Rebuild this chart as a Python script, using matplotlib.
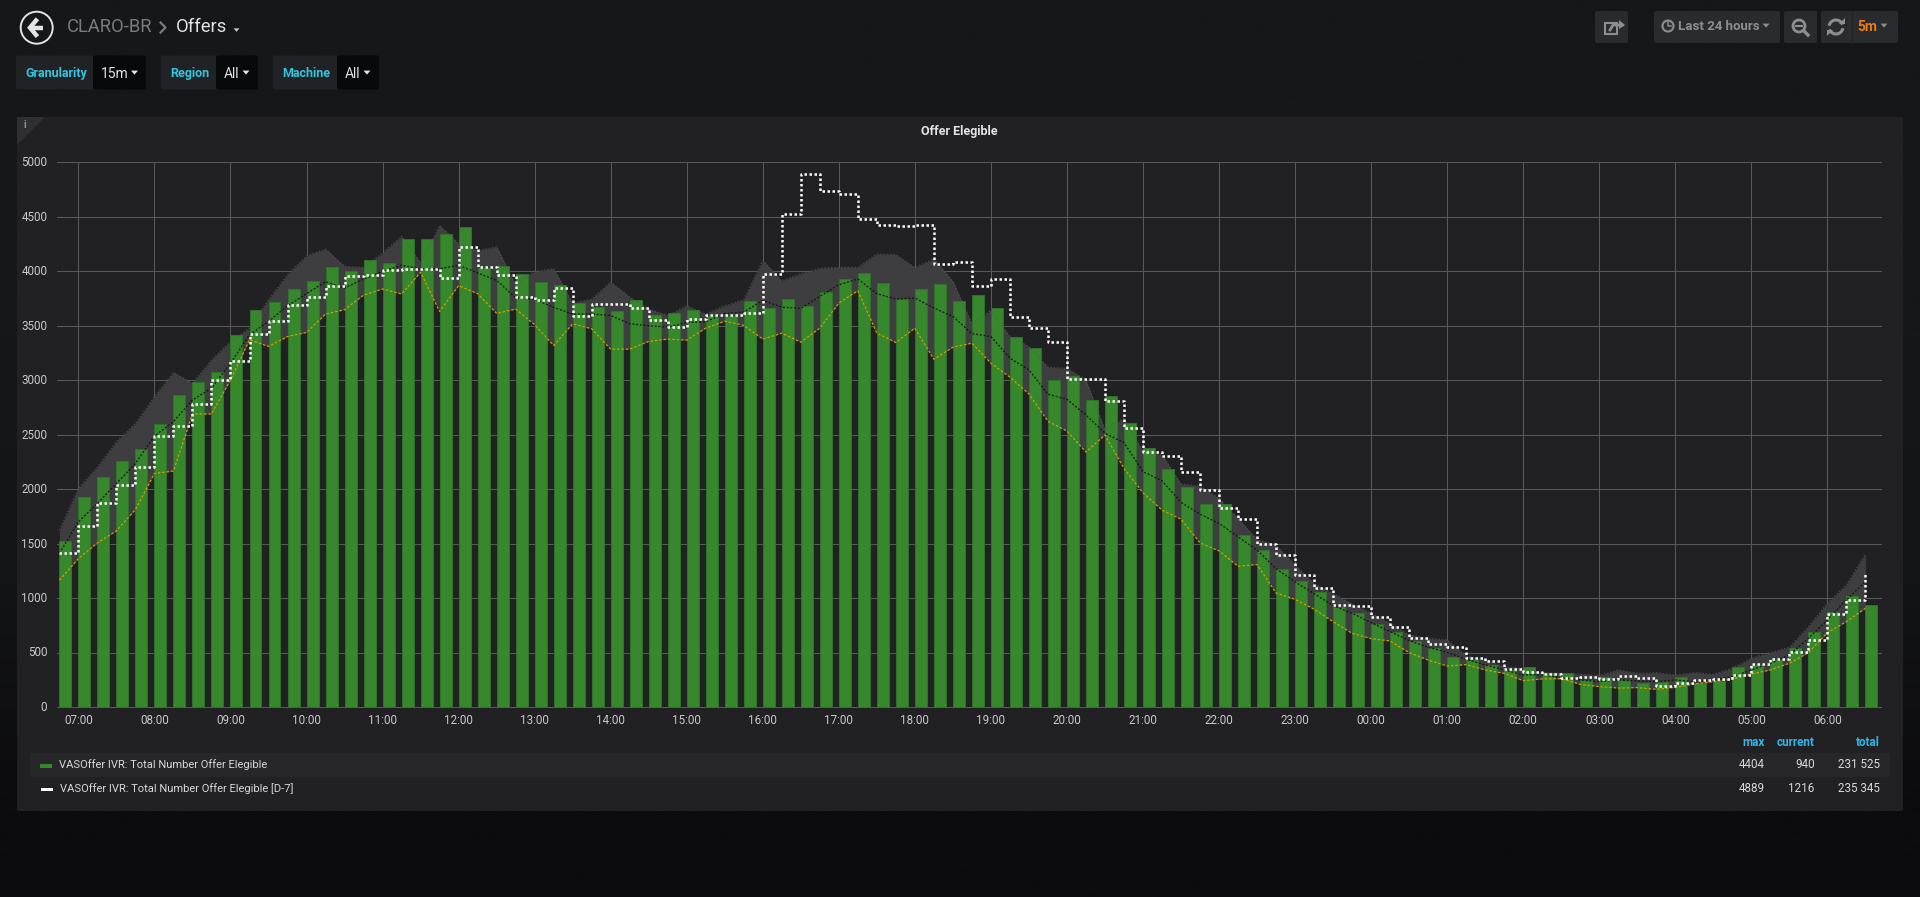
import numpy as np
import matplotlib
matplotlib.use('Agg')
import matplotlib.pyplot as plt
from matplotlib.patches import FancyBboxPatch, Circle, Polygon, Arc, Rectangle
from matplotlib.transforms import ScaledTranslation

plt.rcParams['font.family'] = ['Roboto', 'DejaVu Sans']

# 15 minute slots, first slot is 06:45
hour_labels = ['07:00', '08:00', '09:00', '10:00', '11:00', '12:00', '13:00', '14:00',
               '15:00', '16:00', '17:00', '18:00', '19:00', '20:00', '21:00', '22:00',
               '23:00', '00:00', '01:00', '02:00', '03:00', '04:00', '05:00', '06:00']
y_ticks = [0, 500, 1000, 1500, 2000, 2500, 3000, 3500, 4000, 4500, 5000]

offers = [1521, 1923, 2110, 2257, 2370, 2594, 2863, 2983, 3072, 3412, 3638, 3718,
          3831, 3905, 4034, 4003, 4101, 4074, 4297, 4291, 4337, 4404, 4028, 4046,
          3972, 3902, 3874, 3709, 3672, 3635, 3733, 3599, 3617, 3645, 3589, 3589,
          3727, 3660, 3743, 3678, 3810, 3930, 3982, 3890, 3746, 3838, 3881, 3727,
          3781, 3660, 3390, 3298, 2998, 3038, 2817, 2857, 2603, 2373, 2183, 2021,
          1864, 1858, 1576, 1438, 1264, 1155, 1059, 921, 860, 765, 692, 606,
          539, 462, 431, 386, 340, 367, 315, 315, 248, 278, 248, 217,
          233, 278, 223, 242, 370, 386, 431, 545, 685, 869, 1019, 940]

offers_d7 = [1417, 1665, 1871, 2036, 2201, 2486, 2578, 2777, 2998, 3176, 3424, 3540,
             3684, 3761, 3859, 3957, 3966, 4006, 4015, 4021, 3933, 4224, 4034, 3966,
             3765, 3730, 3844, 3589, 3697, 3697, 3657, 3553, 3482, 3559, 3599, 3596,
             3611, 3972, 4524, 4889, 4738, 4711, 4481, 4423, 4414, 4423, 4067, 4083,
             3865, 3926, 3577, 3473, 3347, 3013, 3007, 2808, 2560, 2342, 2306, 2152,
             1987, 1825, 1723, 1497, 1396, 1215, 1090, 936, 927, 823, 737, 636,
             581, 554, 447, 422, 349, 324, 303, 266, 275, 257, 282, 266,
             193, 220, 251, 260, 297, 398, 438, 505, 615, 857, 982, 1216]

trend_mean = [1410, 1699, 1867, 2051, 2235, 2486, 2618, 2817, 2925, 3154, 3415, 3537,
              3681, 3792, 3902, 3844, 3926, 3997, 4052, 4021, 4021, 4052, 3982, 3914,
              3755, 3743, 3666, 3605, 3605, 3592, 3516, 3498, 3485, 3528, 3534, 3611,
              3623, 3730, 3669, 3657, 3767, 3874, 3926, 3792, 3743, 3752, 3660, 3583,
              3425, 3399, 3200, 3093, 2869, 2823, 2679, 2511, 2425, 2159, 2076, 1877,
              1769, 1684, 1561, 1439, 1270, 1147, 1040, 930, 860, 774, 692, 609,
              548, 502, 438, 386, 340, 294, 294, 269, 248, 233, 248, 239,
              233, 248, 233, 248, 278, 340, 401, 477, 630, 799, 982, 1151]

trend_min = [1163, 1362, 1506, 1616, 1812, 2143, 2165, 2689, 2689, 3000, 3369, 3308,
             3399, 3436, 3605, 3645, 3779, 3835, 3789, 3988, 3629, 3865, 3792, 3611,
             3651, 3507, 3317, 3516, 3470, 3283, 3283, 3354, 3375, 3366, 3476, 3540,
             3501, 3375, 3430, 3347, 3476, 3706, 3819, 3430, 3344, 3476, 3191, 3301,
             3338, 3154, 3026, 2872, 2621, 2532, 2339, 2496, 2189, 1965, 1806, 1723,
             1506, 1432, 1291, 1307, 1046, 988, 897, 783, 676, 627, 606, 499,
             431, 376, 389, 340, 309, 242, 257, 260, 208, 187, 174, 178,
             162, 181, 211, 233, 254, 303, 340, 401, 499, 682, 783, 906]

trend_max = [1622, 2005, 2204, 2434, 2603, 2848, 3069, 2970, 3185, 3353, 3476, 3737,
             3966, 4141, 4202, 4043, 4034, 4165, 4319, 4074, 4417, 4251, 4187, 4221,
             3874, 3997, 4021, 3706, 3743, 3899, 3761, 3651, 3592, 3681, 3605, 3681,
             3736, 4098, 3908, 3975, 4025, 4034, 4034, 4156, 4150, 4031, 4113, 3905,
             3515, 3638, 3399, 3308, 3118, 3105, 3001, 2542, 2649, 2342, 2312, 2045,
             2027, 1913, 1730, 1537, 1484, 1301, 1130, 1040, 945, 860, 768, 661,
             630, 615, 468, 431, 370, 355, 315, 309, 303, 288, 340, 309,
             315, 294, 315, 300, 355, 447, 499, 548, 737, 952, 1120, 1405]

series_names = ['VASOffer IVR: Total Number Offer Elegible',
                'VASOffer IVR: Total Number Offer Elegible [D-7]']
legend_cols = ['max', 'current', 'total']
legend_vals = [['4404', '940', '231 525'], ['4889', '1216', '235 345']]

W, H = 1920, 897
GREEN = '#37872d'
TXT = '#d8d9da'
BLUE = '#33b5e5'


def box(ax, x0, y0, x1, y1, color, r=2.0, z=1):
    ax.add_patch(FancyBboxPatch((x0 + r, y0 + r), x1 - x0 - 2 * r, y1 - y0 - 2 * r,
                                boxstyle='round,pad=%f,rounding_size=%f' % (r, r),
                                fc=color, ec='none', zorder=z))


def caret(ax, x, y, color, s=4.0):
    ax.add_patch(Polygon([(x - s, y - s * 0.55), (x + s, y - s * 0.55), (x, y + s * 0.6)],
                         fc=color, ec='none', zorder=5))


fig = plt.figure(figsize=(W / 100, H / 100), dpi=100)

# page chrome, pixel coordinates
bg = fig.add_axes([0, 0, 1, 1])
bg.set_xlim(0, W)
bg.set_ylim(H, 0)
bg.axis('off')
grad = np.array([[0x16, 0x17, 0x19], [0x16, 0x17, 0x19], [0x14, 0x15, 0x17], [0x0c, 0x0c, 0x0e]]) / 255.0
bg.imshow(grad[:, None, :], extent=[0, W, H, 0], aspect='auto', interpolation='bilinear', zorder=0)
bg.set_xlim(0, W)
bg.set_ylim(H, 0)

# back button and title
bg.add_patch(Circle((36.7, 27.7), 16, fc='none', ec='#e3e3e3', lw=1.4, zorder=3))
bg.plot([30, 43], [27.7, 27.7], color='#e3e3e3', lw=3.2, solid_capstyle='butt', zorder=3)
bg.plot([36, 30, 36], [20.5, 27.7, 34.9], color='#e3e3e3', lw=3.2, solid_joinstyle='miter', zorder=3)
bg.text(67, 27.5, 'CLARO-BR', color='#7b7b7b', fontsize=13.2, va='center', ha='left')
bg.plot([160.5, 165.5, 160.5], [22.5, 27.5, 32.5], color='#7b7b7b', lw=1.6, zorder=3)
bg.text(175.5, 27.5, 'Offers', color='#e3e3e3', fontsize=13.2, va='center', ha='left')
caret(bg, 236.5, 30, '#c8c8c8', 3)

# template variables
for x0, x1, x2, name, val, cx in [(16, 93, 146, 'Granularity', '15m', 134.5),
                                  (161, 216, 258, 'Region', 'All', 246),
                                  (273, 337, 379, 'Machine', 'All', 367)]:
    box(bg, x0, 55.5, x1 + 4, 89.5, '#212226')
    box(bg, x1, 55.5, x2, 89.5, '#08090b', z=2)
    bg.text(x0 + 9, 73.5, name, color='#33c5dd', fontsize=9, fontweight='bold', va='center', ha='left')
    bg.text(x1 + 8, 74, val, color='#e3e3e3', fontsize=10, va='center', ha='left', zorder=4)
    caret(bg, cx, 72.5, '#e3e3e3', 3.5)

# top right buttons
BTN = '#2a2b2e'
GREY = '#8e8e8e'
box(bg, 1595, 11, 1628, 43, BTN)
box(bg, 1654, 11, 1780, 43, BTN)
box(bg, 1784, 11, 1817, 43, BTN)
box(bg, 1821, 11, 1898, 43, BTN)
bg.plot([1851.5, 1851.5], [11, 43], color='#232427', lw=1, zorder=3)
# share icon
bg.add_patch(Rectangle((1605, 23), 12, 11, fc='none', ec=GREY, lw=1.5, zorder=3))
bg.plot([1610, 1613, 1622], [30, 25, 25], color=GREY, lw=2, zorder=3)
bg.add_patch(Polygon([(1619, 20), (1625, 25), (1619, 29)], fc=GREY, ec='none', zorder=4))
# clock
bg.add_patch(Circle((1668, 26), 5.5, fc='none', ec=GREY, lw=1.5, zorder=3))
bg.plot([1668, 1668, 1671], [22.5, 26.5, 26.5], color=GREY, lw=1.1, zorder=3)
bg.text(1678, 27, 'Last 24 hours', color=GREY, fontsize=9.5, fontweight='bold', va='center', ha='left')
caret(bg, 1766, 25.5, GREY, 3.5)
# zoom out
bg.add_patch(Circle((1799, 26), 6, fc='none', ec=GREY, lw=2, zorder=3))
bg.plot([1796, 1802], [26, 26], color=GREY, lw=1.5, zorder=3)
bg.plot([1803.5, 1808], [30.5, 35], color=GREY, lw=2.4, zorder=3)
# refresh
bg.add_patch(Arc((1836, 27), 14, 14, theta1=190, theta2=340, ec=GREY, lw=2.2, zorder=3))
bg.add_patch(Arc((1836, 27), 14, 14, theta1=10, theta2=160, ec=GREY, lw=2.2, zorder=3))
bg.add_patch(Polygon([(1839, 24), (1845, 24), (1845, 18)], fc=GREY, ec='none', zorder=4))
bg.add_patch(Polygon([(1833, 30), (1827, 30), (1827, 36)], fc=GREY, ec='none', zorder=4))
bg.text(1857, 27, '5m', color='#eb7b18', fontsize=10, fontweight='bold', va='center', ha='left')
caret(bg, 1884, 25.5, GREY, 3.5)

# panel
box(bg, 17, 117, 1903, 811, '#212124')
bg.add_patch(Polygon([(17, 117), (45, 117), (17, 145)], fc='#2f2f31', ec='none', zorder=2))
bg.text(25, 125, 'i', color='#7f97aa', fontsize=7.5, fontweight='bold', va='center', ha='center', zorder=3)
bg.text(959, 131, 'Offer Elegible', color='#e3e3e3', fontsize=9, fontweight='bold', va='center', ha='center', zorder=3)

# legend table
box(bg, 30, 753, 1890, 777, '#272729', r=1, z=2)
for name_x, val, y in [(59, series_names[0], 765), (60, series_names[1], 789)]:
    bg.text(name_x, y, val, color=TXT, fontsize=8, va='center', ha='left', zorder=3)
bg.add_patch(Rectangle((40, 764.5), 12, 3.5, fc=GREEN, ec='none', zorder=3))
bg.add_patch(Rectangle((41, 788), 12, 3.5, fc='#ffffff', ec='none', zorder=3))
col_right = [1765, 1814.5, 1880]
for cx, c in zip(col_right, legend_cols):
    bg.text(cx, 742.5, c, color=BLUE, fontsize=8.4, fontweight='bold', va='center', ha='right', zorder=3)
for row, y in zip(legend_vals, [765, 789]):
    for cx, v in zip(col_right, row):
        bg.text(cx, y, v, color=TXT, fontsize=8.4, va='center', ha='right', zorder=3)

# chart
ax = fig.add_axes([57 / W, 1 - 707 / H, (1881 - 57) / W, (707 - 162) / H])
ax.patch.set_alpha(0)
slots = np.arange(len(offers))
hour_pos = np.arange(1, len(offers), 4)

ax.fill_between(slots, trend_min, trend_max, color='#3e3e40', lw=0, zorder=1)
ax.bar(slots, offers, width=0.63, align='edge', color=GREEN, edgecolor='#2f7329', linewidth=0.7, zorder=2)
ax.plot(slots, trend_max, color='#5a5a5c', lw=0.8, ls=(0, (1.5, 1.5)), alpha=0.7, zorder=3)
ax.plot(slots, trend_mean, color='#111111', lw=0.9, ls=(0, (1.5, 1.5)), zorder=3)
ax.plot(slots, trend_min, color='#d19f00', lw=0.9, ls=(0, (2, 1.5)), zorder=3)
ax.plot(slots, offers_d7, color='#ffffff', lw=1.8, ls=(0, (1, 1)), drawstyle='steps-post', zorder=4)

ax.set_xlim(-0.126, 95.82)
ax.set_ylim(0, 5000)
ax.set_xticks(hour_pos)
ax.set_xticklabels(hour_labels)
ax.set_yticks(y_ticks)
ax.tick_params(length=0, labelsize=8.4, labelcolor='#c8c9ca')
ax.tick_params(axis='x', pad=5)
ax.tick_params(axis='y', pad=7)
shift = ScaledTranslation(0, 1 / 100, fig.dpi_scale_trans)
for lab in ax.get_yticklabels():
    lab.set_transform(lab.get_transform() + shift)
ax.set_axisbelow(True)
ax.grid(True, color='#59595b', lw=0.72)
for gl in ax.get_xgridlines() + ax.get_ygridlines():
    gl.set_clip_on(False)
for s in ax.spines.values():
    s.set_visible(False)

fig.savefig('out.png', dpi=100, facecolor='#161719')
